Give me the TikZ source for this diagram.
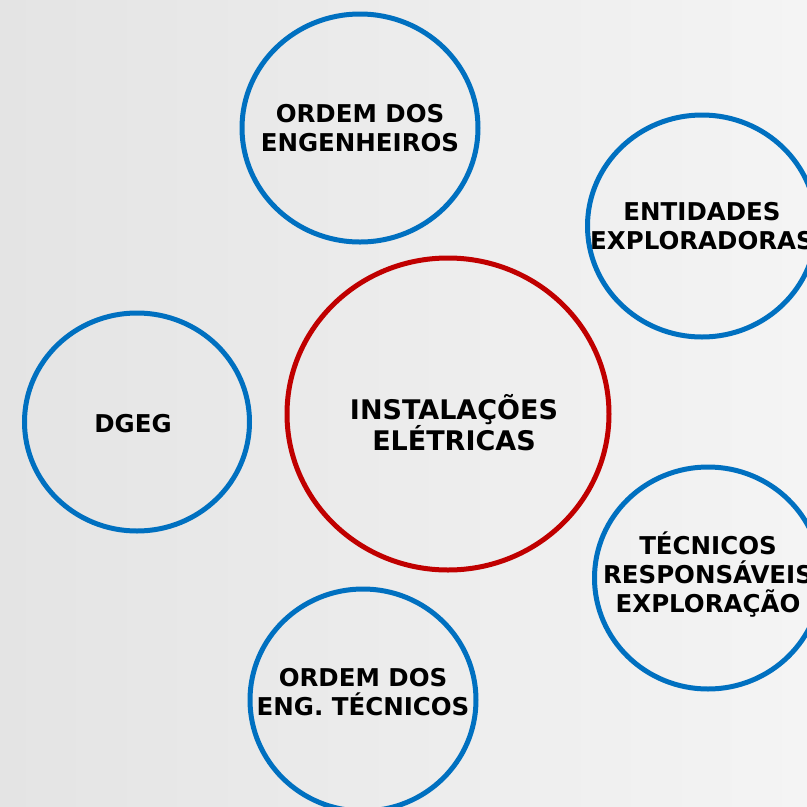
\documentclass[tikz,border=0pt]{standalone}
\usepackage{fontspec}
\usetikzlibrary{shapes.geometric}
\newfontfamily\circlefont{DejaVu Sans}
\definecolor{ringblue}{RGB}{0,112,192}
\definecolor{ringred}{RGB}{192,0,0}
\definecolor{bgleft}{RGB}{228,228,228}
\definecolor{bgright}{RGB}{244,244,244}

\begin{document}
\begin{tikzpicture}[
			x=1pt, y=-1pt,
			outer/.style={draw=ringblue, line width=5pt, ellipse, inner sep=0pt},
			central/.style={draw=ringred, line width=5pt, ellipse, inner sep=0pt},
			ringtext/.style={align=center, inner sep=0pt, font=\circlefont\bfseries\fontsize{24.5}{29}\selectfont},
			centertext/.style={align=center, inner sep=0pt, font=\circlefont\bfseries\fontsize{27}{31}\selectfont}
			]
			
			% Background
			\useasboundingbox (0,0) rectangle (807,807);
			\clip (0,0) rectangle (807,807);
			\shade[left color=bgleft, right color=bgright] (0,0) rectangle (807,807);
			
			% Central node
			\node[central, minimum width=322pt, minimum height=312pt,
				label={[centertext, xshift=6pt, yshift=-9pt]center:INSTALAÇÕES\\ELÉTRICAS}] (installations) at (448,414) {};
			
			% Surrounding nodes
			\node[outer, minimum width=236pt, minimum height=228pt,
				label={[ringtext]center:ORDEM DOS\\ENGENHEIROS}] (engineers) at (360,128) {};
			\node[outer, minimum width=229pt, minimum height=222pt,
				label={[ringtext]center:ENTIDADES\\EXPLORADORAS}] (operators) at (702,226) {};
			\node[outer, minimum width=225pt, minimum height=218pt,
				label={[ringtext, xshift=-4pt, yshift=-2pt]center:DGEG}] (dgeg) at (137,422) {};
			\node[outer, minimum width=227pt, minimum height=222pt,
				label={[ringtext, yshift=3pt]center:TÉCNICOS\\RESPONSÁVEIS\\EXPLORAÇÃO}] (technicians) at (708,578) {};
			\node[outer, minimum width=226pt, minimum height=222pt,
				label={[ringtext, yshift=8pt]center:ORDEM DOS\\ENG. TÉCNICOS}] (techengineers) at (363,700) {};
			
		\end{tikzpicture}
\end{document}
